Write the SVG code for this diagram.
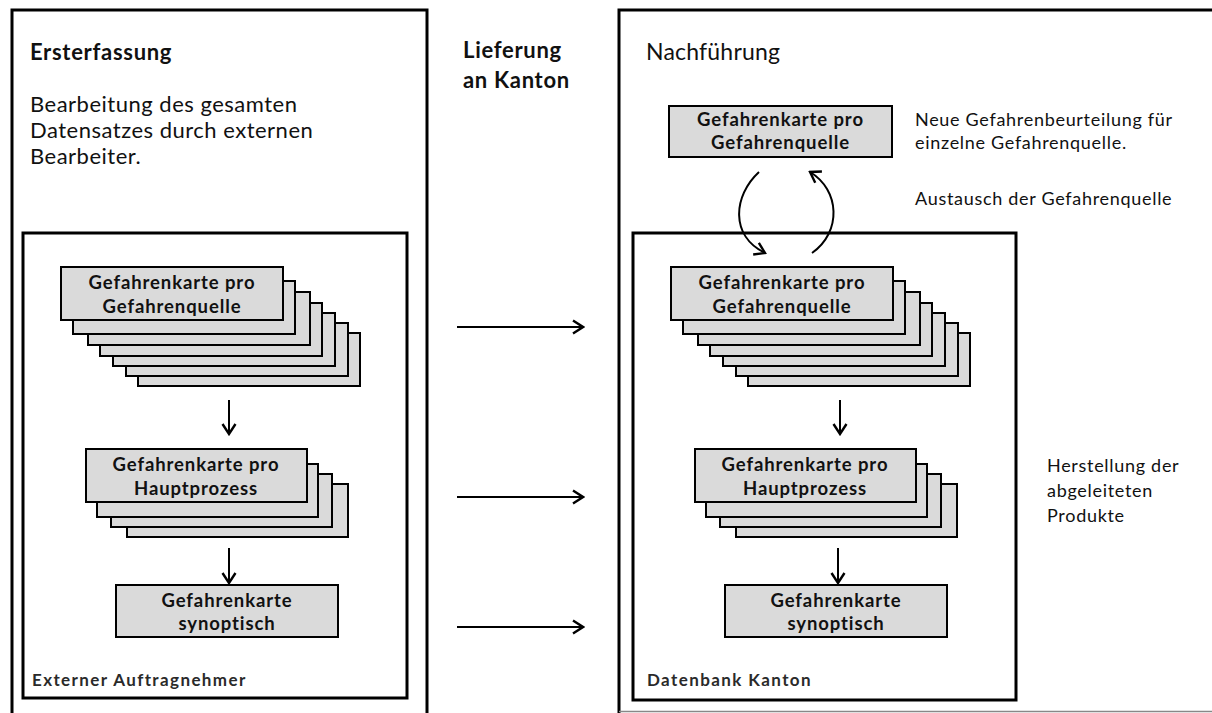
<svg xmlns="http://www.w3.org/2000/svg" width="1212" height="713" viewBox="0 0 1212 713">
<defs>
<style>
.frame{fill:none;stroke:#000;stroke-width:3}
.card{fill:#dadada;stroke:#000;stroke-width:2}
.t{font-family:Lato,"Liberation Sans",sans-serif;fill:#111}
.title{font-size:22px;font-weight:bold;letter-spacing:0.7px}
.body{font-size:22px;letter-spacing:0.5px}
.head{font-size:23px;letter-spacing:0.2px}
.lbl{font-size:18.5px;font-weight:bold;text-anchor:middle;letter-spacing:0.9px}
.foot{font-size:17px;font-weight:bold;fill:#2a2a2a;letter-spacing:1.4px}
.note{font-size:18px;letter-spacing:0.7px}
.conn{fill:none;stroke:#000;stroke-width:2}
</style>
<marker id="ah" markerUnits="userSpaceOnUse" viewBox="-12 -8 14 16" refX="0" refY="0" markerWidth="14" markerHeight="16" orient="auto">
<path d="M-10,-6.5 L0,0 L-10,6.5" fill="none" stroke="#000" stroke-width="2.4"/>
</marker>
</defs>
<rect width="1212" height="713" fill="#fff"/>

<g id="ersterfassung">
<rect class="frame" x="12" y="10" width="415" height="720"/>
<text class="t title" x="30" y="60">Ersterfassung</text>
<text class="t body" x="30" y="112">Bearbeitung des gesamten</text>
<text class="t body" x="30" y="138">Datensatzes durch externen</text>
<text class="t body" x="30" y="164">Bearbeiter.</text>
</g>

<g id="externer-auftragnehmer">
<rect class="frame" x="23" y="233" width="384" height="465"/>
<text class="t foot" x="32" y="686">Externer Auftragnehmer</text>
</g>

<g id="l-gefahrenquelle">
<rect class="card" x="138" y="333" width="222" height="53"/>
<rect class="card" x="126" y="323" width="222" height="53"/>
<rect class="card" x="113" y="313" width="222" height="53"/>
<rect class="card" x="100" y="303" width="222" height="53"/>
<rect class="card" x="88" y="292" width="222" height="53"/>
<rect class="card" x="73" y="281" width="222" height="53"/>
<rect class="card" x="61" y="267" width="222" height="53"/>
<text class="t lbl" x="172" y="289">Gefahrenkarte pro</text>
<text class="t lbl" x="172" y="313">Gefahrenquelle</text>
</g>

<g id="l-hauptprozess">
<rect class="card" x="127" y="484" width="221" height="53"/>
<rect class="card" x="111" y="474" width="221" height="53"/>
<rect class="card" x="97" y="464" width="221" height="53"/>
<rect class="card" x="86" y="449" width="221" height="53"/>
<text class="t lbl" x="196" y="471">Gefahrenkarte pro</text>
<text class="t lbl" x="196" y="495">Hauptprozess</text>
</g>

<g id="l-synoptisch">
<rect class="card" x="116" y="585" width="222" height="52"/>
<text class="t lbl" x="227" y="607">Gefahrenkarte</text>
<text class="t lbl" x="227" y="630">synoptisch</text>
</g>

<g id="lieferung">
<text class="t title" x="463" y="58">Lieferung</text>
<text class="t title" x="463" y="88">an Kanton</text>
</g>

<g id="nachfuehrung">
<path class="frame" d="M1216,10 H619 V716"/>
<line x1="619" y1="711.5" x2="1212" y2="711.5" stroke="#888" stroke-width="1.5"/>
<text class="t head" x="646" y="60">Nachführung</text>
<text class="t note" x="915" y="126">Neue Gefahrenbeurteilung für</text>
<text class="t note" x="915" y="149">einzelne Gefahrenquelle.</text>
<text class="t note" x="915" y="205">Austausch der Gefahrenquelle</text>
<text class="t note" x="1047" y="472">Herstellung der</text>
<text class="t note" x="1047" y="497">abgeleiteten</text>
<text class="t note" x="1047" y="522">Produkte</text>
</g>

<g id="neue-gefahrenquelle">
<rect class="card" x="669" y="106" width="223" height="51"/>
<text class="t lbl" x="780.5" y="126">Gefahrenkarte pro</text>
<text class="t lbl" x="780.5" y="149">Gefahrenquelle</text>
</g>

<g id="datenbank-kanton">
<rect class="frame" x="633" y="233" width="383" height="467"/>
<text class="t foot" x="647" y="686">Datenbank Kanton</text>
</g>

<g id="r-gefahrenquelle">
<rect class="card" x="748" y="333" width="222" height="53"/>
<rect class="card" x="736" y="323" width="222" height="53"/>
<rect class="card" x="723" y="313" width="222" height="53"/>
<rect class="card" x="710" y="303" width="222" height="53"/>
<rect class="card" x="698" y="292" width="222" height="53"/>
<rect class="card" x="683" y="281" width="222" height="53"/>
<rect class="card" x="671" y="267" width="222" height="53"/>
<text class="t lbl" x="782" y="289">Gefahrenkarte pro</text>
<text class="t lbl" x="782" y="313">Gefahrenquelle</text>
</g>

<g id="r-hauptprozess">
<rect class="card" x="736" y="484" width="221" height="53"/>
<rect class="card" x="720" y="474" width="221" height="53"/>
<rect class="card" x="706" y="464" width="221" height="53"/>
<rect class="card" x="695" y="449" width="221" height="53"/>
<text class="t lbl" x="805" y="471">Gefahrenkarte pro</text>
<text class="t lbl" x="805" y="495">Hauptprozess</text>
</g>

<g id="r-synoptisch">
<rect class="card" x="725" y="585" width="222" height="52"/>
<text class="t lbl" x="836" y="607">Gefahrenkarte</text>
<text class="t lbl" x="836" y="630">synoptisch</text>
</g>

<g id="connectors">
<line class="conn" x1="229" y1="400" x2="229" y2="434" marker-end="url(#ah)"/>
<line class="conn" x1="229" y1="548" x2="229" y2="583" marker-end="url(#ah)"/>
<line class="conn" x1="840" y1="400" x2="840" y2="434" marker-end="url(#ah)"/>
<line class="conn" x1="838" y1="548" x2="838" y2="583" marker-end="url(#ah)"/>
<line class="conn" x1="457" y1="327" x2="583" y2="327" marker-end="url(#ah)"/>
<line class="conn" x1="457" y1="497" x2="583" y2="497" marker-end="url(#ah)"/>
<line class="conn" x1="457" y1="627" x2="583" y2="627" marker-end="url(#ah)"/>
<path class="conn" d="M759,172 C733,196 730,236 765,253" marker-end="url(#ah)"/>
<path class="conn" d="M812,253 C842,232 840,190 810,172" marker-end="url(#ah)"/>
</g>
</svg>
